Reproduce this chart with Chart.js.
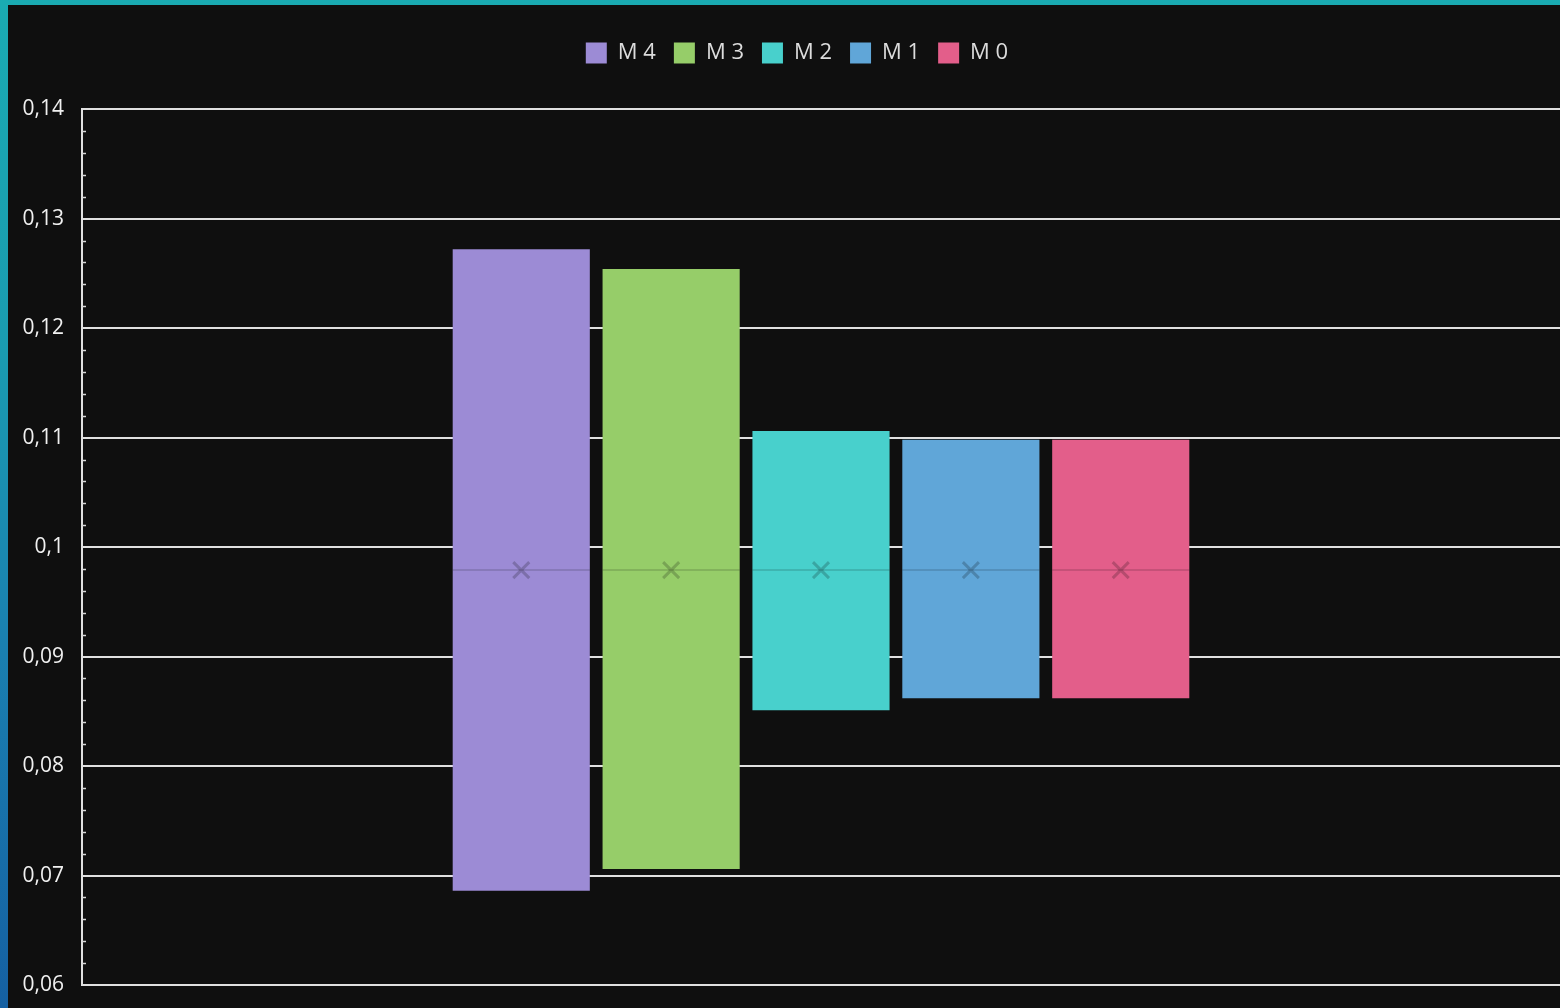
<!DOCTYPE html>
<html>
<head>
<meta charset="utf-8">
<script src="https://cdn.jsdelivr.net/npm/chart.js@4.4.1/dist/chart.umd.min.js"></script>
<style>
  html, body { margin: 0; padding: 0; }
  body {
    width: 1560px; height: 1008px; overflow: hidden;
    background: linear-gradient(180deg, #1aabb2 0%, #1a9bb0 35%, #1a7fb0 65%, #1560a2 100%);
  }
  #wrap {
    position: absolute; left: 8px; top: 5px; width: 1552px; height: 1003px;
    background: #0f0f0f;
  }
</style>
</head>
<body>
<div id="wrap"><canvas id="myChart" width="1552" height="1003"></canvas></div>
<script>
// series (min / max of each range, line and marker values)
const seriesNames = ['M 4', 'M 3', 'M 2', 'M 1', 'M 0'];
const lows    = [0.0686, 0.0706, 0.0851, 0.0862, 0.0862];
const highs   = [0.1272, 0.1254, 0.1106, 0.1098, 0.1098];
const medians = [0.0979, 0.0979, 0.0979, 0.0979, 0.0979];
const means   = [0.0979, 0.0979, 0.0979, 0.0979, 0.0979];
const colors  = ['#9c8bd5', '#96cd69', '#48d0cc', '#60a6d8', '#e35e8a'];
const yMin = 0.06, yMax = 0.14;

const font = '"Open Sans", "Noto Sans", sans-serif';

// median line + mean cross drawn over each bar
const medianPlugin = {
    id: 'medianMarks',
    afterDatasetsDraw(chart) {
        const ctx = chart.ctx;
        const y = chart.scales.y;
        chart.data.datasets.forEach((ds, i) => {
            const bar = chart.getDatasetMeta(i).data[0];
            if (!bar) return;
            const half = bar.width / 2;
            const ym = y.getPixelForValue(medians[i]);
            ctx.save();
            ctx.strokeStyle = 'rgba(0,0,0,0.13)';
            ctx.lineWidth = 2;
            ctx.beginPath();
            ctx.moveTo(bar.x - half, ym);
            ctx.lineTo(bar.x + half, ym);
            ctx.stroke();
            const yc = y.getPixelForValue(means[i]);
            const s = 8;
            ctx.strokeStyle = 'rgba(0,0,0,0.2)';
            ctx.lineWidth = 3;
            ctx.beginPath();
            ctx.moveTo(bar.x - s, yc - s); ctx.lineTo(bar.x + s, yc + s);
            ctx.moveTo(bar.x + s, yc - s); ctx.lineTo(bar.x - s, yc + s);
            ctx.stroke();
            ctx.restore();
        });
    }
};

// small minor ticks on the inside of the value axis
const minorTicks = {
    id: 'minorTicks',
    afterDraw(chart) {
        const ctx = chart.ctx;
        const y = chart.scales.y;
        const left = chart.chartArea.left;
        ctx.save();
        ctx.strokeStyle = '#d8d8d8';
        ctx.lineWidth = 1.5;
        for (let k = 0; k <= 40; k++) {
            if (k % 5 === 0) continue;
            const py = Math.round(y.getPixelForValue(yMin + k * 0.002)) + 0.5;
            ctx.beginPath();
            ctx.moveTo(left, py);
            ctx.lineTo(left + 4, py);
            ctx.stroke();
        }
        ctx.restore();
    }
};

// legend sits a little right of the canvas centre in the original
const legendShift = {
    id: 'legendShift',
    afterLayout(chart) {
        if (chart.legend) {
            chart.legend.left += 13;
            chart.legend.right += 13;
        }
    }
};

const ctx = document.getElementById('myChart').getContext('2d');
const myChart = new Chart(ctx, {
    type: 'bar',
    data: {
        labels: [''],
        datasets: seriesNames.map((name, i) => ({
            label: name,
            data: [[lows[i], highs[i]]],
            backgroundColor: colors[i],
            borderWidth: 0,
            borderSkipped: false,
            barPercentage: 0.915,
            categoryPercentage: 0.507
        }))
    },
    options: {
        responsive: false,
        animation: false,
        layout: { padding: { left: 0, right: 0, top: 19, bottom: 23 } },
        plugins: {
            legend: {
                position: 'top',
                labels: {
                    color: '#dcdcdc',
                    font: { family: font, size: 22 },
                    boxWidth: 21,
                    boxHeight: 21,
                    padding: 18
                }
            },
            // empty spacer between legend and plot
            title: {
                display: true,
                text: ' ',
                weight: 500,
                font: { size: 1 },
                padding: { top: 0, bottom: 34 }
            },
            tooltip: { enabled: false }
        },
        scales: {
            x: {
                display: false
            },
            y: {
                min: yMin,
                max: yMax,
                afterFit(scale) {
                    scale.width = 74;
                    scale.paddingTop = 0;
                    scale.paddingBottom = 0;
                },
                ticks: {
                    stepSize: 0.01,
                    color: '#f0f0f0',
                    padding: 18,
                    font: { family: font, size: 21 },
                    callback: v => Number(v.toFixed(2)).toString().replace('.', ',')
                },
                grid: {
                    color: '#e0e0e0',
                    lineWidth: 2,
                    drawTicks: false
                },
                border: { display: true, color: '#e0e0e0', width: 2 }
            }
        }
    },
    plugins: [medianPlugin, minorTicks, legendShift]
});
</script>
</body>
</html>
